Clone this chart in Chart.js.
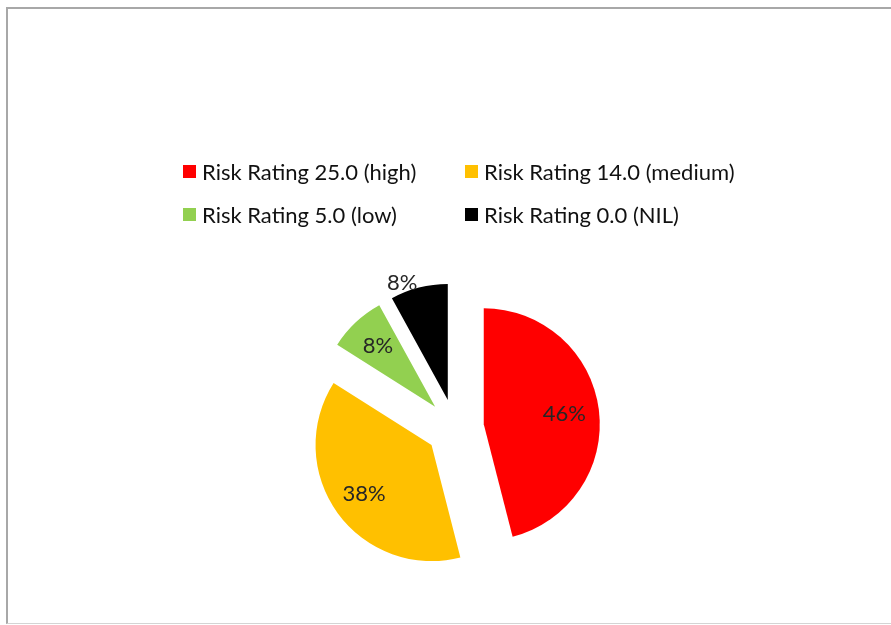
<!DOCTYPE html>
<html>
<head>
<meta charset="utf-8">
<script src="https://cdn.jsdelivr.net/npm/chart.js@4"></script>
<style>
    html, body { margin: 0; padding: 0; background: #fff; }
    body { width: 891px; height: 625px; position: relative; overflow: hidden; font-family: Lato, "Open Sans", sans-serif; }
    .frame { position: absolute; left: 6px; top: 7px; width: 900px; height: 614px;
             border-left: 2px solid #a8a8a8; border-top: 2px solid #a8a8a8; border-bottom: 1px solid #d4d4d4; }
    #myChart { position: absolute; left: 0; top: 0; }
    .legend { position: absolute; left: 183px; top: 157px; display: grid;
              grid-template-columns: 282px auto; grid-auto-rows: 43px; }
    .legend .item { display: flex; align-items: center; height: 28px; font-size: 22px; color: #111; white-space: nowrap; }
    .legend .box { width: 13px; height: 13px; margin-right: 6px; flex: none; }
</style>
</head>
<body>
<div class="frame"></div>
<canvas id="myChart" width="891" height="625"></canvas>
<div class="legend"></div>
<script>
// risk rating shares (%), clockwise from 12 o'clock
const categories = ["Risk Rating 25.0 (high)", "Risk Rating 14.0 (medium)", "Risk Rating 5.0 (low)", "Risk Rating 0.0 (NIL)"];
const shares = [46, 38, 8, 8];
const colors = ["#ff0000", "#ffc000", "#92d050", "#000000"];

const explode = 29; // px every slice is pulled out

/* chart.js offset also widens small arcs, so pull slices out by a plain translate instead */
const explodeSlices = {
    id: "explodeSlices",
    beforeDatasetsDraw(chart) {
        const arcs = chart.getDatasetMeta(0).data;
        arcs.forEach(arc => {
            if (arc._exploded) return;
            arc._exploded = true;
            const draw = arc.draw;
            arc.draw = function(ctx) {
                const mid = (this.startAngle + this.endAngle) / 2;
                ctx.save();
                ctx.translate(Math.cos(mid) * explode, Math.sin(mid) * explode);
                draw.call(this, ctx);
                ctx.restore();
            };
        });
    }
};

/* percent labels: distance as part of radius, degrees nudge */
const pctLabels = {
    id: "pctLabels",
    afterDatasetsDraw(chart, args, opts) {
        const ctx = chart.ctx;
        const arcs = chart.getDatasetMeta(0).data;
        ctx.save();
        ctx.font = opts.font;
        ctx.fillStyle = opts.color;
        ctx.textAlign = "center";
        ctx.textBaseline = "middle";
        arcs.forEach((arc, i) => {
            const {x, y, startAngle, endAngle, outerRadius} = arc.getProps(["x", "y", "startAngle", "endAngle", "outerRadius"], true);
            const mid = (startAngle + endAngle) / 2;
            const tipX = x + Math.cos(mid) * explode;
            const tipY = y + Math.sin(mid) * explode;
            const [frac, nudge] = opts.place[i];
            const a = mid + nudge * Math.PI / 180;
            ctx.fillText(shares[i] + "%", tipX + Math.cos(a) * outerRadius * frac, tipY + Math.sin(a) * outerRadius * frac);
        });
        ctx.restore();
    }
};

window.addEventListener("DOMContentLoaded", function() {
    // legend in two columns
    const legend = document.querySelector(".legend");
    categories.forEach((name, i) => {
        const item = document.createElement("div");
        item.className = "item";
        item.innerHTML = `<span class="box" style="background:${colors[i]}"></span><span>${name}</span>`;
        legend.appendChild(item);
    });

    const myChart = document.getElementById("myChart").getContext("2d");
    new Chart(myChart, {
        type: "pie",
        data: {
            labels: categories,
            datasets: [{
                data: shares,
                backgroundColor: colors,
                borderWidth: 0,
                offset: 0,
                hoverOffset: 0
            }]
        },
        options: {
            responsive: false,
            animation: false,
            radius: 116,
            layout: { padding: { left: 19, right: 0, top: 231, bottom: 0 } },
            events: [],
            plugins: {
                legend: { display: false },
                tooltip: { enabled: false },
                pctLabels: {
                    font: "22px Lato, 'Open Sans', sans-serif",
                    color: "#262626",
                    place: [[0.70, 0], [0.72, 0], [0.72, 0], [1.08, -7]]
                }
            }
        },
        plugins: [explodeSlices, pctLabels]
    });
});
</script>
</body>
</html>
